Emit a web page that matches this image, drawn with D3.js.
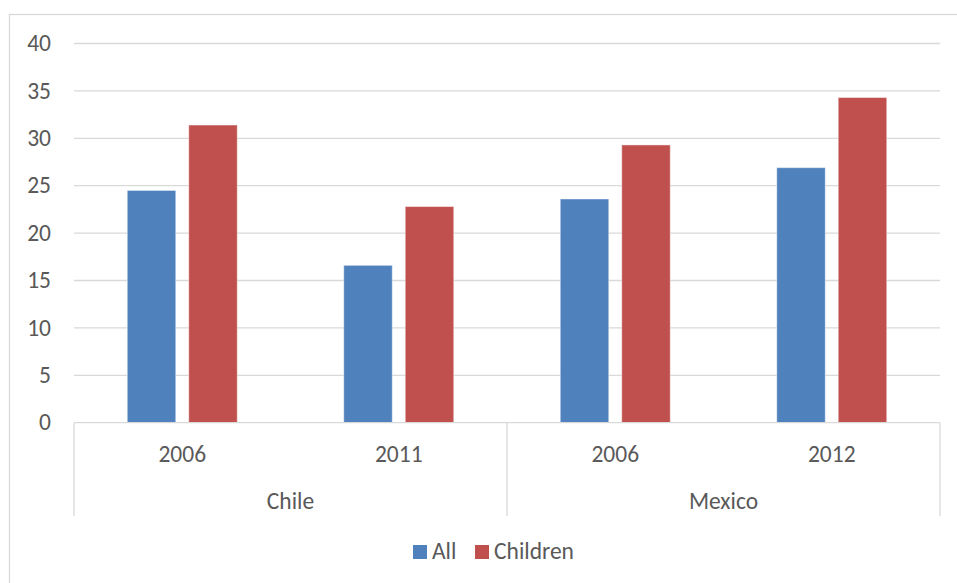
<!DOCTYPE html>
<html>
<head>
<meta charset="utf-8">
<script src="https://cdn.jsdelivr.net/npm/d3@7"></script>
<style>
  html, body { margin: 0; padding: 0; background: #fff; }
  svg { display: block; }
  text { font-family: Carlito, Calibri, Lato, "Open Sans", sans-serif; fill: #595959; }
</style>
</head>
<body>
<svg id="chart" width="957" height="583"></svg>
<script>
// Poverty rates (%) by country and survey year
const countries = ["Chile", "Chile", "Mexico", "Mexico"];
const years = ["2006", "2011", "2006", "2012"];
const seriesNames = ["All", "Children"];
const allValues = [24.5, 16.6, 23.6, 26.9];
const childrenValues = [31.4, 22.8, 29.3, 34.3];
const yTicks = [0, 5, 10, 15, 20, 25, 30, 35, 40];
const colors = ["#4F81BD", "#C0504D"];

const svg = d3.select("#chart");
const W = 957, H = 583;
const margin = { left: 74, right: 17, top: 43.5, bottom: 160.3 };
const plotRight = W - margin.right;
const plotBottom = H - margin.bottom;
const fontSize = 23.5;

// outer chart frame
svg.append("rect")
  .attr("x", 9.5).attr("y", 14.5)
  .attr("width", 980).attr("height", 620)
  .attr("fill", "none").attr("stroke", "#d9d9d9").attr("stroke-width", 1.3);

const idx = d3.range(years.length);
const x0 = d3.scaleBand().domain(idx).range([margin.left, plotRight]).padding(0);
const x1 = d3.scaleBand().domain(seriesNames).range([0, x0.bandwidth()])
  .paddingInner(0.211).paddingOuter(0.866);
const y = d3.scaleLinear().domain([0, 40]).range([plotBottom, margin.top]);

// horizontal gridlines
svg.append("g")
  .selectAll("line")
  .data(yTicks.filter(t => t > 0))
  .join("line")
  .attr("x1", margin.left).attr("x2", plotRight)
  .attr("y1", d => y(d)).attr("y2", d => y(d))
  .attr("stroke", "#d9d9d9").attr("stroke-width", 1.3);

// y tick labels
svg.append("g")
  .selectAll("text")
  .data(yTicks)
  .join("text")
  .attr("x", 51)
  .attr("y", d => y(d))
  .attr("dy", "0.33em")
  .attr("text-anchor", "end")
  .attr("font-size", fontSize)
  .text(d => d);

// bars
const rows = idx.map(i => ({ i, values: [allValues[i], childrenValues[i]] }));
const groups = svg.append("g")
  .selectAll("g")
  .data(rows)
  .join("g")
  .attr("transform", d => `translate(${x0(d.i)},0)`);

groups.selectAll("rect")
  .data(d => seriesNames.map((s, k) => ({ s, k, v: d.values[k] })))
  .join("rect")
  .attr("x", d => x1(d.s))
  .attr("width", x1.bandwidth())
  .attr("y", d => y(d.v))
  .attr("height", d => y(0) - y(d.v))
  .attr("fill", d => colors[d.k])
  .attr("stroke", "rgba(255,255,255,0.45)")
  .attr("stroke-width", 1);

// category axis: baseline and group separators
const axisG = svg.append("g").attr("stroke", "#d9d9d9").attr("stroke-width", 1.3);
axisG.append("line")
  .attr("x1", margin.left).attr("x2", plotRight)
  .attr("y1", y(0)).attr("y2", y(0));

const countryNames = Array.from(new Set(countries));
const groupStarts = countryNames.map(c => countries.indexOf(c));
const separators = groupStarts.map(i => x0(i)).concat([plotRight]);
axisG.selectAll("line.sep")
  .data(separators)
  .join("line")
  .attr("class", "sep")
  .attr("x1", d => d).attr("x2", d => d)
  .attr("y1", y(0)).attr("y2", 516);

// year labels
svg.append("g")
  .selectAll("text")
  .data(idx)
  .join("text")
  .attr("x", i => x0(i) + x0.bandwidth() / 2)
  .attr("y", 462)
  .attr("text-anchor", "middle")
  .attr("font-size", fontSize)
  .text(i => years[i]);

// country labels
svg.append("g")
  .selectAll("text")
  .data(countryNames)
  .join("text")
  .attr("x", c => {
    const members = idx.filter(i => countries[i] === c);
    const a = x0(members[0]);
    const b = x0(members[members.length - 1]) + x0.bandwidth();
    return (a + b) / 2;
  })
  .attr("y", 509)
  .attr("text-anchor", "middle")
  .attr("font-size", fontSize)
  .text(c => c);

// legend
const legend = svg.append("g");
const legendX = [413, 475];
seriesNames.forEach((s, k) => {
  legend.append("rect")
    .attr("x", legendX[k]).attr("y", 545)
    .attr("width", 14).attr("height", 14)
    .attr("fill", colors[k]);
  legend.append("text")
    .attr("x", legendX[k] + 19).attr("y", 559)
    .attr("font-size", fontSize)
    .text(s);
});
</script>
</body>
</html>
